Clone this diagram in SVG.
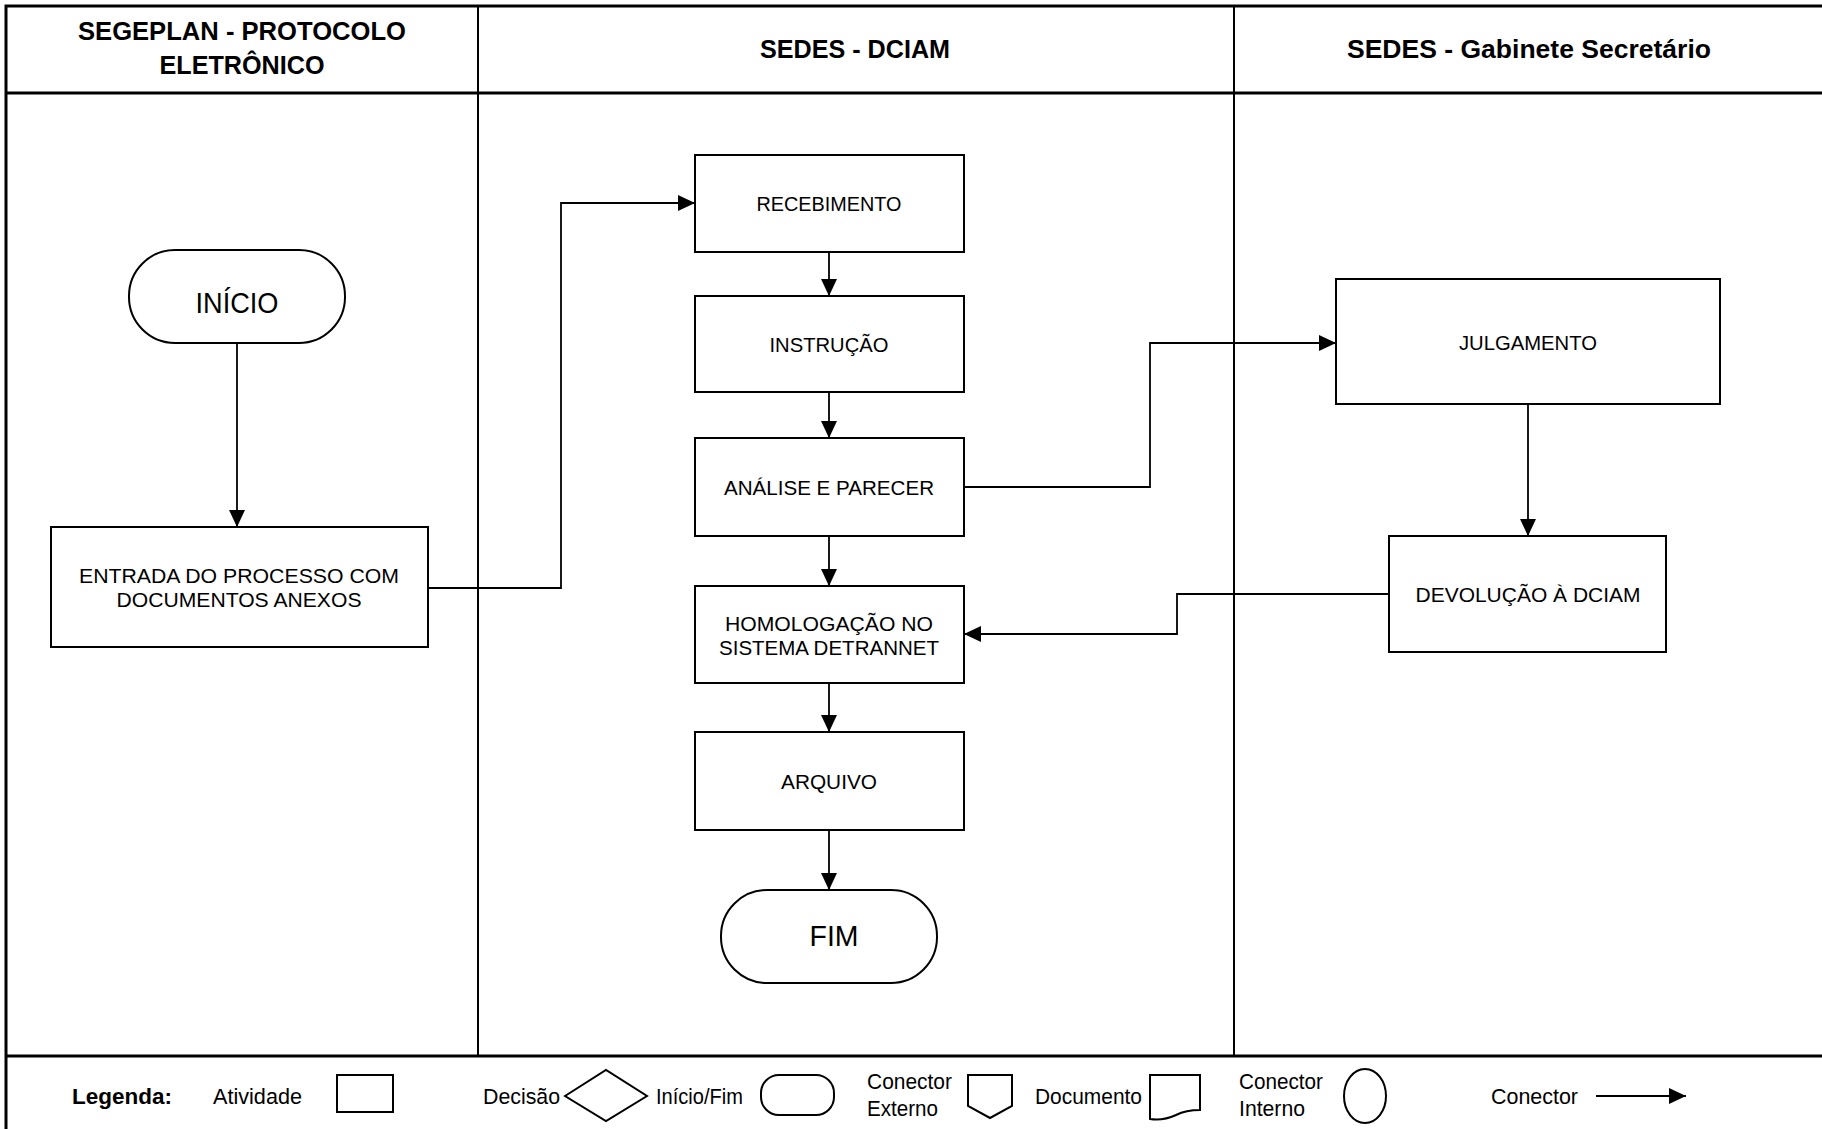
<svg xmlns="http://www.w3.org/2000/svg" width="1822" height="1129" viewBox="0 0 1822 1129">
<style>
.frame{fill:none;stroke:#000;stroke-width:3}
.lane{stroke:#000;stroke-width:2}
.box{fill:#fff;stroke:#000;stroke-width:2}
.con{fill:none;stroke:#000;stroke-width:1.8}
.hd{font-family:"Liberation Sans",Arial,sans-serif;font-weight:bold;font-size:25px;text-anchor:middle;fill:#000}
.lb{font-family:"Liberation Sans",Arial,sans-serif;font-size:21px;text-anchor:middle;fill:#000}
.big{font-family:"Liberation Sans",Arial,sans-serif;font-size:30px;text-anchor:middle;fill:#000}
.lg{font-family:"Liberation Sans",Arial,sans-serif;font-size:22px;fill:#000}
.lgb{font-family:"Liberation Sans",Arial,sans-serif;font-size:22px;font-weight:bold;fill:#000}
</style>
<defs>
<marker id="ah" markerUnits="userSpaceOnUse" markerWidth="17" markerHeight="16" refX="17" refY="8" orient="auto">
<path d="M0,0 L17,8 L0,16 Z" fill="#000"/>
</marker>
</defs>
<rect width="1822" height="1129" fill="#fff"/>
<g id="frame">
<rect class="frame" x="6" y="6" width="1840" height="1140"/>
<line class="frame" x1="6" y1="93" x2="1822" y2="93"/>
<line class="frame" x1="6" y1="1056" x2="1822" y2="1056"/>
<line class="lane" x1="478" y1="6" x2="478" y2="1056"/>
<line class="lane" x1="1234" y1="6" x2="1234" y2="1056"/>
</g>
<g id="headers">
<text class="hd" x="242" y="40" textLength="328" lengthAdjust="spacingAndGlyphs">SEGEPLAN - PROTOCOLO</text>
<text class="hd" x="242" y="74" textLength="165" lengthAdjust="spacingAndGlyphs">ELETRÔNICO</text>
<text class="hd" x="855" y="58" textLength="190" lengthAdjust="spacingAndGlyphs">SEDES - DCIAM</text>
<text class="hd" x="1529" y="58" textLength="364" lengthAdjust="spacingAndGlyphs">SEDES - Gabinete Secretário</text>
</g>
<g id="connectors">
<line class="con" x1="237" y1="343" x2="237" y2="527" marker-end="url(#ah)"/>
<polyline class="con" points="428,588 561,588 561,203 695,203" marker-end="url(#ah)"/>
<line class="con" x1="829" y1="252" x2="829" y2="296" marker-end="url(#ah)"/>
<line class="con" x1="829" y1="392" x2="829" y2="438" marker-end="url(#ah)"/>
<line class="con" x1="829" y1="536" x2="829" y2="586" marker-end="url(#ah)"/>
<line class="con" x1="829" y1="683" x2="829" y2="732" marker-end="url(#ah)"/>
<line class="con" x1="829" y1="830" x2="829" y2="890" marker-end="url(#ah)"/>
<polyline class="con" points="964,487 1150,487 1150,343 1336,343" marker-end="url(#ah)"/>
<line class="con" x1="1528" y1="404" x2="1528" y2="536" marker-end="url(#ah)"/>
<polyline class="con" points="1389,594 1177,594 1177,634 964,634" marker-end="url(#ah)"/>
</g>
<g id="n-inicio">
<rect class="box" x="129" y="250" width="216" height="93" rx="46" ry="46"/>
<text class="big" x="237" y="313" textLength="83" lengthAdjust="spacingAndGlyphs">INÍCIO</text>
</g>
<g id="n-entrada">
<rect class="box" x="51" y="527" width="377" height="120"/>
<text class="lb" x="239" y="583" textLength="320" lengthAdjust="spacingAndGlyphs">ENTRADA DO PROCESSO COM</text>
<text class="lb" x="239" y="607" textLength="245" lengthAdjust="spacingAndGlyphs">DOCUMENTOS ANEXOS</text>
</g>
<g id="n-recebimento">
<rect class="box" x="695" y="155" width="269" height="97"/>
<text class="lb" x="829" y="211" textLength="145" lengthAdjust="spacingAndGlyphs">RECEBIMENTO</text>
</g>
<g id="n-instrucao">
<rect class="box" x="695" y="296" width="269" height="96"/>
<text class="lb" x="829" y="352" textLength="119" lengthAdjust="spacingAndGlyphs">INSTRUÇÃO</text>
</g>
<g id="n-analise">
<rect class="box" x="695" y="438" width="269" height="98"/>
<text class="lb" x="829" y="495" textLength="210" lengthAdjust="spacingAndGlyphs">ANÁLISE E PARECER</text>
</g>
<g id="n-homologacao">
<rect class="box" x="695" y="586" width="269" height="97"/>
<text class="lb" x="829" y="631" textLength="208" lengthAdjust="spacingAndGlyphs">HOMOLOGAÇÃO NO</text>
<text class="lb" x="829" y="655" textLength="220" lengthAdjust="spacingAndGlyphs">SISTEMA DETRANNET</text>
</g>
<g id="n-arquivo">
<rect class="box" x="695" y="732" width="269" height="98"/>
<text class="lb" x="829" y="789" textLength="96" lengthAdjust="spacingAndGlyphs">ARQUIVO</text>
</g>
<g id="n-fim">
<rect class="box" x="721" y="890" width="216" height="93" rx="46" ry="46"/>
<text class="big" x="834" y="946" textLength="49" lengthAdjust="spacingAndGlyphs">FIM</text>
</g>
<g id="n-julgamento">
<rect class="box" x="1336" y="279" width="384" height="125"/>
<text class="lb" x="1528" y="350" textLength="138" lengthAdjust="spacingAndGlyphs">JULGAMENTO</text>
</g>
<g id="n-devolucao">
<rect class="box" x="1389" y="536" width="277" height="116"/>
<text class="lb" x="1528" y="602" textLength="225" lengthAdjust="spacingAndGlyphs">DEVOLUÇÃO À DCIAM</text>
</g>
<g id="legend">
<text class="lgb" x="72" y="1104" textLength="100" lengthAdjust="spacingAndGlyphs">Legenda:</text>
<text class="lg" x="213" y="1104" textLength="89" lengthAdjust="spacingAndGlyphs">Atividade</text>
<rect class="box" x="337" y="1075" width="56" height="37"/>
<text class="lg" x="483" y="1104" textLength="77" lengthAdjust="spacingAndGlyphs">Decisão</text>
<polygon class="box" points="565,1096 606,1070 647,1096 606,1121"/>
<text class="lg" x="656" y="1104" textLength="87" lengthAdjust="spacingAndGlyphs">Início/Fim</text>
<rect class="box" x="761" y="1075" width="73" height="40" rx="18" ry="18"/>
<text class="lg" x="867" y="1089" textLength="85" lengthAdjust="spacingAndGlyphs">Conector</text>
<text class="lg" x="867" y="1116" textLength="71" lengthAdjust="spacingAndGlyphs">Externo</text>
<polygon class="box" points="968,1075 1012,1075 1012,1106 990,1118 968,1106"/>
<text class="lg" x="1035" y="1104" textLength="107" lengthAdjust="spacingAndGlyphs">Documento</text>
<path class="box" d="M1150,1075 H1200 V1110 Q1186,1110 1176,1115 Q1163,1121 1150,1119 Z"/>
<text class="lg" x="1239" y="1089" textLength="84" lengthAdjust="spacingAndGlyphs">Conector</text>
<text class="lg" x="1239" y="1116" textLength="66" lengthAdjust="spacingAndGlyphs">Interno</text>
<ellipse class="box" cx="1365" cy="1096" rx="21" ry="27"/>
<text class="lg" x="1491" y="1104" textLength="87" lengthAdjust="spacingAndGlyphs">Conector</text>
<line class="con" x1="1596" y1="1096" x2="1686" y2="1096" marker-end="url(#ah)"/>
</g>
</svg>
